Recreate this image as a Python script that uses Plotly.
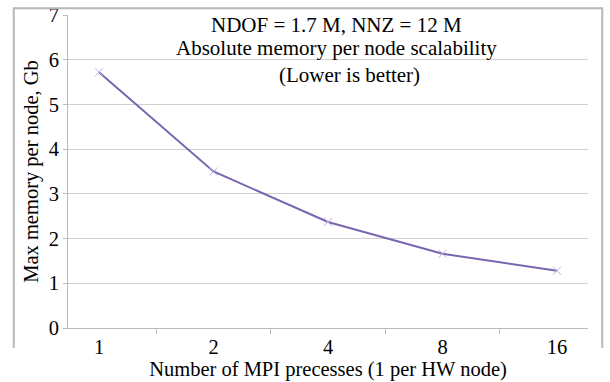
import plotly.graph_objects as go

categories = ["1", "2", "4", "8", "16"]
memory_gb = [5.72, 3.5, 2.37, 1.66, 1.28]
y_ticks = [0, 1, 2, 3, 4, 5, 6, 7]
title_lines = ["NDOF = 1.7 M, NNZ = 12 M", "Absolute memory per node scalability", "(Lower is better)"]

font = "Liberation Serif"
W, H = 610, 382
# paper region = outer chart frame
FL, FT, FR = 12, 7, 604
ML, MT, MR, MB = FL, FT, W - FR, 0
pw, ph = W - ML - MR, H - MT - MB
# plot area in pixels
PL, PR, PT, PB = 68, 588, 15, 328

def px(x):
    return (x - ML) / pw

def py(y):
    return (H - MB - y) / ph

fig = go.Figure()
fig.add_trace(go.Scatter(
    x=categories, y=memory_gb, mode="lines+markers",
    line=dict(color="#7a65b0", width=2),
    marker=dict(symbol="x-thin", size=8, line=dict(color="#b9aee0", width=1), color="#b9aee0"),
    showlegend=False, hoverinfo="skip",
))

# outer chart frame drawn on an invisible full-paper subplot
fig.add_trace(go.Scatter(
    x=[0, 0, 1, 1], y=[0, 1, 1, 0], mode="lines",
    line=dict(color="#b8b8b8", width=2),
    xaxis="x2", yaxis="y2", showlegend=False, hoverinfo="skip",
))

fig.update_layout(
    template="none",
    width=W, height=H,
    margin=dict(l=ML, r=MR, t=MT, b=MB),
    paper_bgcolor="white", plot_bgcolor="rgba(0,0,0,0)",
    font=dict(family=font, size=20.5, color="black"),
    xaxis=dict(
        domain=[px(PL), px(PR)], automargin=False,
        type="category", tickson="boundaries", ticks="outside", ticklen=5,
        tickcolor="#bbbbbb", showline=True, linecolor="#bbbbbb", linewidth=1,
        showgrid=False, zeroline=False, tickfont=dict(family=font, size=20.5),
        title=dict(text="Number of MPI precesses (1 per HW node)", font=dict(family=font, size=20.5), standoff=0),
    ),
    yaxis=dict(
        domain=[py(PB), py(PT)], automargin=False,
        range=[0, 7], tickvals=y_ticks, showgrid=True, gridcolor="#d0d0d0", gridwidth=1,
        showline=True, linecolor="#bbbbbb", ticks="outside", ticklen=4, tickcolor="#bbbbbb",
        zeroline=False, tickfont=dict(family=font, size=20.5),
        title=dict(text="Max memory per node, Gb", font=dict(family=font, size=20.5), standoff=4),
    ),
    xaxis2=dict(domain=[0, 1], range=[-0.003, 1.003], anchor="y2", visible=False, fixedrange=True),
    yaxis2=dict(domain=[0, 1], range=[-0.1, 1.004], anchor="x2", visible=False, fixedrange=True),
)

for text, xc, yc in zip(title_lines, [336, 336, 349], [25, 48, 75]):
    fig.add_annotation(
        text=text, xref="paper", yref="paper", x=px(xc), y=py(yc),
        xanchor="center", yanchor="middle", showarrow=False,
        font=dict(size=21, family=font),
    )

fig.write_html("out.html")
